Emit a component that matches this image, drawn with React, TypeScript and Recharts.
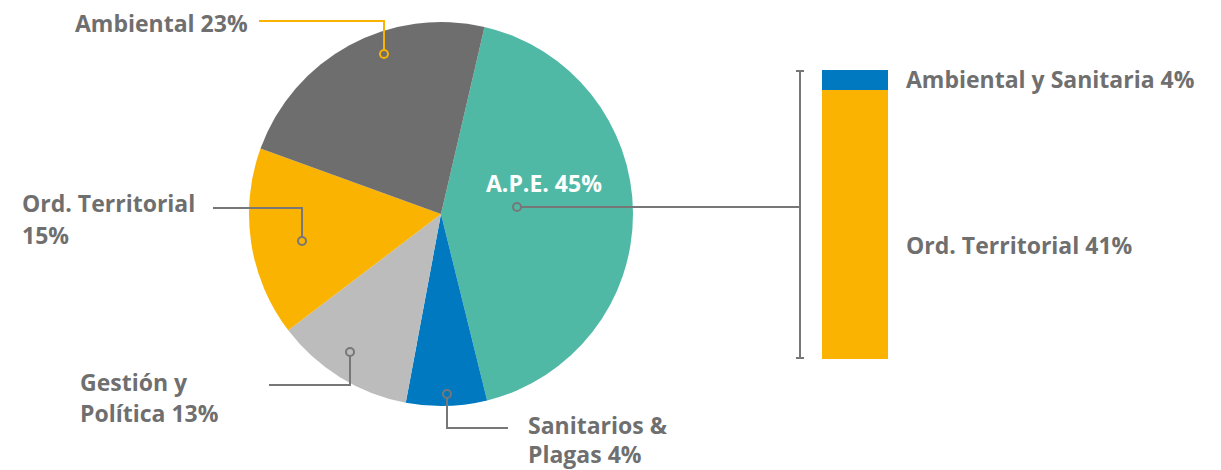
import { PieChart, Pie, Cell, BarChart, Bar, XAxis, YAxis } from 'recharts';

// pie slices (share of the circle as drawn)
const pieNames = ['A.P.E.', 'Sanitarios & Plagas', 'Gestión y Política', 'Ord. Territorial', 'Ambiental'];
const pieValues = [42.5, 6.8, 11.7, 15.9, 23.1];
const pieColors = ['#50b9a6', '#0079c1', '#bcbcbc', '#f9b300', '#6e6e6e'];

// breakdown of A.P.E. in the stacked bar
const barNames = ['Ord. Territorial', 'Ambiental y Sanitaria'];
const barValues = [93.1, 6.9];
const barColors = ['#f9b300', '#0079c1'];

const pieData = pieNames.map((name, i) => ({ name, value: pieValues[i] }));
const barRow = [{ name: 'A.P.E.', ord: barValues[0], amb: barValues[1] }];

const W = 1221;
const H = 470;
const TEXT = '#6f6f6f';
const LINE = '#777777';
const font = { fontFamily: '"Open Sans", sans-serif', fontWeight: 700, fontSize: 23 };

export default function App() {
    return (
        <div style={{ position: 'absolute', left: 0, top: 0, width: W, height: H, background: '#fff' }}>
            <div style={{ position: 'absolute', left: 0, top: 0 }}>
                <PieChart width={W} height={H} margin={{ top: 0, right: 0, bottom: 0, left: 0 }}>
                    <Pie
                        data={pieData}
                        dataKey="value"
                        cx={441}
                        cy={214}
                        outerRadius={192}
                        startAngle={76.9}
                        endAngle={-283.1}
                        stroke="none"
                        isAnimationActive={false}
                    >
                        {pieData.map((d, i) => (
                            <Cell key={d.name} fill={pieColors[i]} />
                        ))}
                    </Pie>
                </PieChart>
            </div>
            <div style={{ position: 'absolute', left: 0, top: 0 }}>
                <BarChart
                    width={W}
                    height={H}
                    data={barRow}
                    margin={{ top: 70, right: W - 888, bottom: H - 359, left: 822 }}
                    barCategoryGap={0}
                >
                    <XAxis dataKey="name" hide />
                    <YAxis hide domain={[0, 100]} />
                    <Bar dataKey="ord" name={barNames[0]} stackId="a" fill={barColors[0]} isAnimationActive={false} />
                    <Bar dataKey="amb" name={barNames[1]} stackId="a" fill={barColors[1]} isAnimationActive={false} />
                </BarChart>
            </div>
            <svg width={W} height={H} style={{ position: 'absolute', left: 0, top: 0 }}>
                <g fill="none" strokeWidth={2}>
                    {/* Ambiental */}
                    <polyline points="259,21 384,21 384,50" stroke="#f9b300" />
                    <circle cx={384} cy={54} r={4} stroke="#f9b300" />
                    {/* Ord. Territorial */}
                    <polyline points="213,208 302,208 302,237" stroke={LINE} />
                    <circle cx={302} cy={241} r={4} stroke={LINE} />
                    {/* Gestión */}
                    <polyline points="269,385 350,385 350,356" stroke={LINE} />
                    <circle cx={350} cy={352} r={4} stroke={LINE} />
                    {/* Sanitarios */}
                    <polyline points="447,398 447,428 508,428" stroke={LINE} />
                    <circle cx={447} cy={394} r={4} stroke={LINE} />
                    {/* A.P.E. to bar */}
                    <line x1={521} y1={207} x2={800} y2={207} stroke={LINE} />
                    <circle cx={517} cy={207} r={4} stroke={LINE} />
                    <line x1={800} y1={70} x2={800} y2={359} stroke={LINE} />
                    <line x1={796} y1={71} x2={804} y2={71} stroke={LINE} />
                    <line x1={796} y1={358} x2={804} y2={358} stroke={LINE} />
                </g>
                <g {...font} fill={TEXT}>
                    <text x={75} y={32}>Ambiental 23%</text>
                    <text x={22} y={212}>Ord. Territorial</text>
                    <text x={22} y={244}>15%</text>
                    <text x={80} y={391}>Gestión y</text>
                    <text x={80} y={422}>Política 13%</text>
                    <text x={528} y={434}>Sanitarios &amp;</text>
                    <text x={528} y={463}>Plagas 4%</text>
                    <text x={906} y={88}>Ambiental y Sanitaria 4%</text>
                    <text x={906} y={254}>Ord. Territorial 41%</text>
                </g>
                <text x={486} y={192} {...font} fill="#ffffff">A.P.E. 45%</text>
            </svg>
        </div>
    );
}
